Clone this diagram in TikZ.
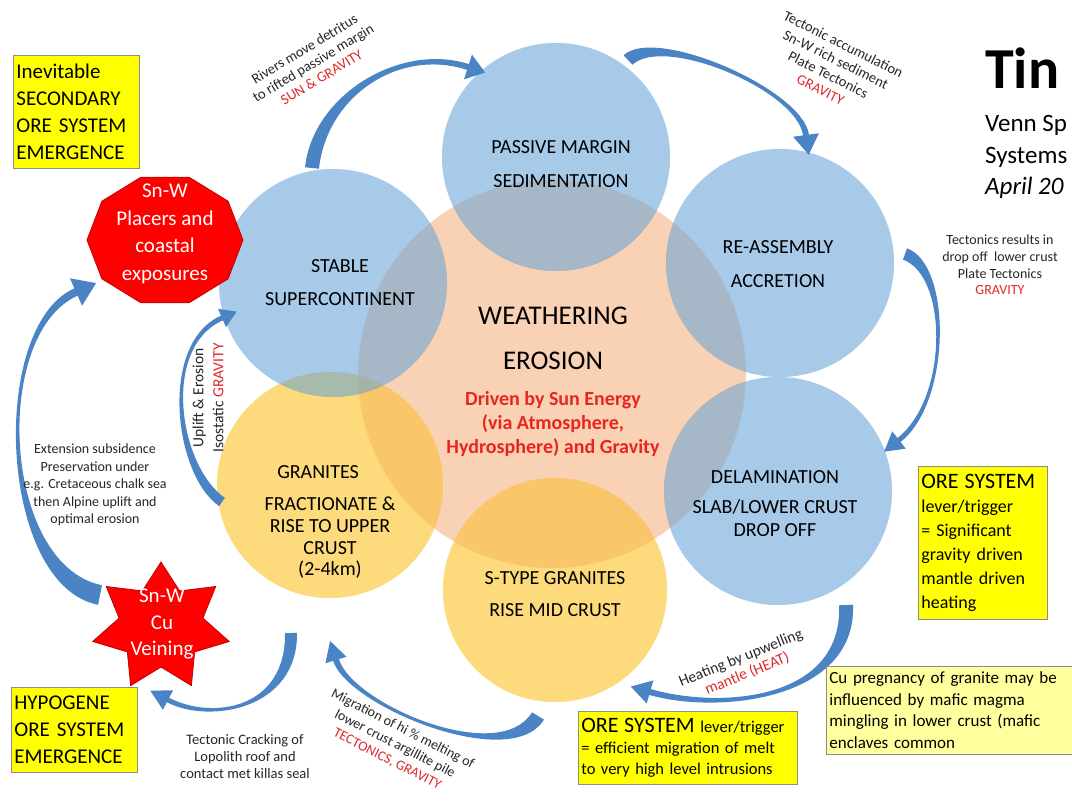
\documentclass[tikz,border=0pt]{standalone}
\usepackage{fontspec}
\setmainfont{Carlito}
\usetikzlibrary{calc}
\definecolor{cblue}{HTML}{A8CAE9}
\definecolor{cyel}{HTML}{FDDA7C}
\definecolor{cpeach}{HTML}{F9D1B5}
\definecolor{arrowblue}{HTML}{4A84C4}
\definecolor{lblred}{HTML}{E0282A}
\definecolor{drvred}{HTML}{E8261E}
\definecolor{shapered}{HTML}{FF0000}
\definecolor{shapeedge}{HTML}{C00000}
\definecolor{boxyel}{HTML}{FFFF00}
\definecolor{boxlt}{HTML}{FFFF9E}
\definecolor{boxedge}{HTML}{8C8C8C}
\definecolor{txtgray}{HTML}{262626}
\newcommand\myfs[2]{\fontsize{#1pt}{#2pt}\selectfont}
% tapered curved block arrow: name, P0, P1, P2, P3, tail half width, end half width, head half width, head length
\newcommand\tarrow[9]{%
  \coordinate (#1a) at #2;
  \coordinate (#1b) at #3;
  \coordinate (#1c) at #4;
  \coordinate (#1d) at #5;
  \fill[arrowblue] ($(#1a)!#6!90:(#1b)$) .. controls ($(#1b)!#6!-90:(#1a)$) and ($(#1c)!#7!90:(#1d)$) .. ($(#1d)!#7!-90:(#1c)$)
    -- ($(#1d)!#8!-90:(#1c)$) -- ($(#1d)!#9!180:(#1c)$) -- ($(#1d)!#8!90:(#1c)$) -- ($(#1d)!#7!90:(#1c)$)
    .. controls ($(#1c)!#7!-90:(#1d)$) and ($(#1b)!#6!90:(#1a)$) .. ($(#1a)!#6!-90:(#1b)$) -- cycle;}
% outer translucent circle: name, centre, colour, radius
\newcommand\outercirc[4]{%
  \begin{scope}[blend mode=multiply]
    \node[circle, inner sep=0pt, minimum size=2*#4, fill=#3] (#1) at #2 {};
  \end{scope}
  \fill[#3, fill opacity=0.5] (#1.center) circle[radius=#4];}

\begin{document}
\begin{tikzpicture}[x=1pt,y=-1pt,
  ctext/.style={font=\myfs{20}{34}, align=center, inner sep=0pt, text=black},
  lbl/.style={font=\myfs{14}{17}, text=txtgray, align=center, inner sep=0pt},
  ybox/.style={draw=boxedge, line width=0.8pt, fill=boxyel, anchor=north west, align=left, inner xsep=3pt, inner ysep=0pt},
  redshape/.style={fill=shapered, draw=shapeedge, line width=0.8pt},
  wtext/.style={text=white, align=center, inner sep=0pt, font=\myfs{21}{27.5}}
]
\useasboundingbox (0,0) rectangle (1072,803);
\clip (0,0) rectangle (1072,803);
\fill[white] (0,0) rectangle (1072,803);

% circles
\node[circle, inner sep=0pt, minimum size=388pt, fill=cpeach] (we) at (552,374) {};
\outercirc{gra}{(330,485)}{cyel}{113pt}
\outercirc{st}{(555,590)}{cyel}{112pt}
\outercirc{pm}{(556,157)}{cblue}{114pt}
\outercirc{ra}{(780,263)}{cblue}{114pt}
\outercirc{ss}{(333,283)}{cblue}{114pt}
\outercirc{del}{(778,491)}{cblue}{114pt}

% circle texts
\node[ctext] (pmt) at (561,164) {PASSIVE MARGIN\\SEDIMENTATION};
\node[ctext] (rat) at (778,264) {RE-ASSEMBLY\\ACCRETION};
\node[ctext, font=\myfs{20}{33}] (sst) at (340,283) {STABLE\\SUPERCONTINENT};
\node[ctext, font=\myfs{20}{23}] (delt) at (775,504) {DELAMINATION\\[7pt]SLAB/LOWER CRUST\\DROP OFF};
\node[ctext] (grat1) at (318,472) {GRANITES};
\node[ctext, font=\myfs{20}{21.7}] (grat2) at (330,538) {FRACTIONATE \&\\RISE TO UPPER\\CRUST\\(2-4km)};
\node[ctext, font=\myfs{20}{32}] (stt) at (555,594) {S-TYPE GRANITES\\RISE MID CRUST};
\node[ctext, font=\myfs{27}{45}] (weath) at (553,338) {WEATHERING\\EROSION};
\node[ctext, font=\bfseries\myfs{20}{24}, text=drvred] (driven) at (553,424) {Driven by Sun Energy\\(via Atmosphere,\\Hydrosphere) and Gravity};

% arrows
\tarrow{arA}{(312,168)}{(320,95)}{(400,45)}{(468,67)}{7pt}{3pt}{13pt}{18pt}
\tarrow{arB}{(628,60)}{(660,30)}{(800,90)}{(806,135)}{6.5pt}{3pt}{13pt}{20pt}
\tarrow{arC}{(905,254)}{(950,270)}{(950,400)}{(899,440)}{6pt}{2.5pt}{11pt}{19pt}
\tarrow{arD}{(846,605)}{(850,700)}{(720,712)}{(650,692)}{7pt}{3pt}{12pt}{20pt}
\tarrow{arE}{(538,716)}{(505,770)}{(350,705)}{(336,660)}{7pt}{3pt}{11pt}{20pt}
\tarrow{arF}{(291,633)}{(292,710)}{(210,722)}{(168,700)}{6pt}{2.5pt}{11pt}{20pt}
\tarrow{arG}{(100,595)}{(0,575)}{(-10,330)}{(76,292)}{10pt}{4pt}{15pt}{22pt}
\tarrow{arH}{(222,502)}{(176,470)}{(160,345)}{(222,318)}{5pt}{2.5pt}{10pt}{16pt}

% red shapes
\begin{scope}[shift={(165,240)}]
  \draw[redshape] (0:78pt and 66pt) \foreach \a in {36,72,...,324} { -- (\a:78pt and 66pt)} -- cycle;
\end{scope}
\node[wtext] (placers) at (165,234) {Sn-W\\Placers and\\coastal\\exposures};
\begin{scope}[shift={(161,627)}]
  \draw[redshape] (90:70pt and 65pt) \foreach \i [evaluate=\i as \rx using {ifthenelse(mod(\i,2)==1,43,70)}, evaluate=\i as \ry using {ifthenelse(mod(\i,2)==1,40,65)}] in {1,...,13} { -- ({90+\i*180/7}:\rx pt and \ry pt)} -- cycle;
\end{scope}
\node[wtext, font=\myfs{21}{26.5}] (veining) at (162,624) {Sn-W\\Cu\\Veining};

% labels
\node[lbl, rotate=31, font=\myfs{14.5}{16.5}] (rivers) at (313,63) {Rivers move detritus\\to rifted passive margin\\\textcolor{lblred}{SUN \& GRAVITY}};
\node[lbl, rotate=-26.6, font=\myfs{14.5}{17}] (tecacc) at (832,67) {Tectonic accumulation\\Sn-W rich sediment\\Plate Tectonics\\\textcolor{lblred}{GRAVITY}};
\node[lbl, font=\myfs{14}{16.7}] (tecres) at (1000,265) {Tectonics results in\\drop off\ \ lower crust\\Plate Tectonics\\\textcolor{lblred}{GRAVITY}};
\node[lbl, rotate=90, font=\myfs{15.5}{20}] (uplift) at (208,398) {Uplift \& Erosion\\Isostatic \textcolor{lblred}{GRAVITY}};
\node[lbl, font=\myfs{14}{17.5}] (ext) at (95,485) {Extension subsidence\\Preservation under\\e.g. Cretaceous chalk sea\\then Alpine uplift and\\optimal erosion};
\node[lbl, font=\myfs{14.5}{17}] (crack) at (245,757) {Tectonic Cracking of\\Lopolith roof and\\contact met killas seal};
\node[lbl, rotate=-27] (migr) at (395,744) {Migration of hi \% melting of\\lower crust argillite pile\\\textcolor{lblred}{TECTONICS, GRAVITY}};
\node[lbl, rotate=22, font=\myfs{15.5}{17}] (heat) at (744,666) {Heating by upwelling\\\textcolor{lblred}{mantle (HEAT)}};

% boxes
\node[ybox, text width=120pt, minimum height=113pt, font=\myfs{21}{27}] (secbox) at (13,55) {Inevitable\\SECONDARY\\ORE SYSTEM\\EMERGENCE};
\node[ybox, text width=120pt, minimum height=85pt, font=\myfs{21}{27}] (hypbox) at (11,687) {HYPOGENE\\ORE SYSTEM\\EMERGENCE};
\node[ybox, text width=123pt, minimum height=153pt, font=\myfs{18}{24}] (rbox) at (918,466) {{\myfs{22}{24}ORE SYSTEM}\\lever/trigger\\= Significant\\gravity driven\\mantle driven\\heating};
\node[ybox, text width=213pt, minimum height=73pt, font=\myfs{16.5}{21}] (bbox) at (578,711) {{\myfs{22}{24}ORE SYSTEM} lever/trigger\\= efficient migration of melt\\to very high level intrusions};
\node[ybox, fill=boxlt, text width=250pt, minimum height=88pt, font=\myfs{17}{21.5}] (cubox) at (826,666) {Cu pregnancy of granite may be\\influenced by mafic magma\\mingling in lower crust (mafic\\enclaves common};

% title
\node[anchor=base west, inner sep=0pt, font=\bfseries\myfs{58}{60}] (tin) at (985,88) {Tin};
\node[anchor=base west, inner sep=0pt, font=\myfs{25}{31}] (venn) at (985,131) {Venn Sp};
\node[anchor=base west, inner sep=0pt, font=\myfs{25}{31}] (systems) at (985,163) {Systems};
\node[anchor=base west, inner sep=0pt, font=\itshape\myfs{25}{31}] (april) at (985,194) {April 20};
\end{tikzpicture}
\end{document}
